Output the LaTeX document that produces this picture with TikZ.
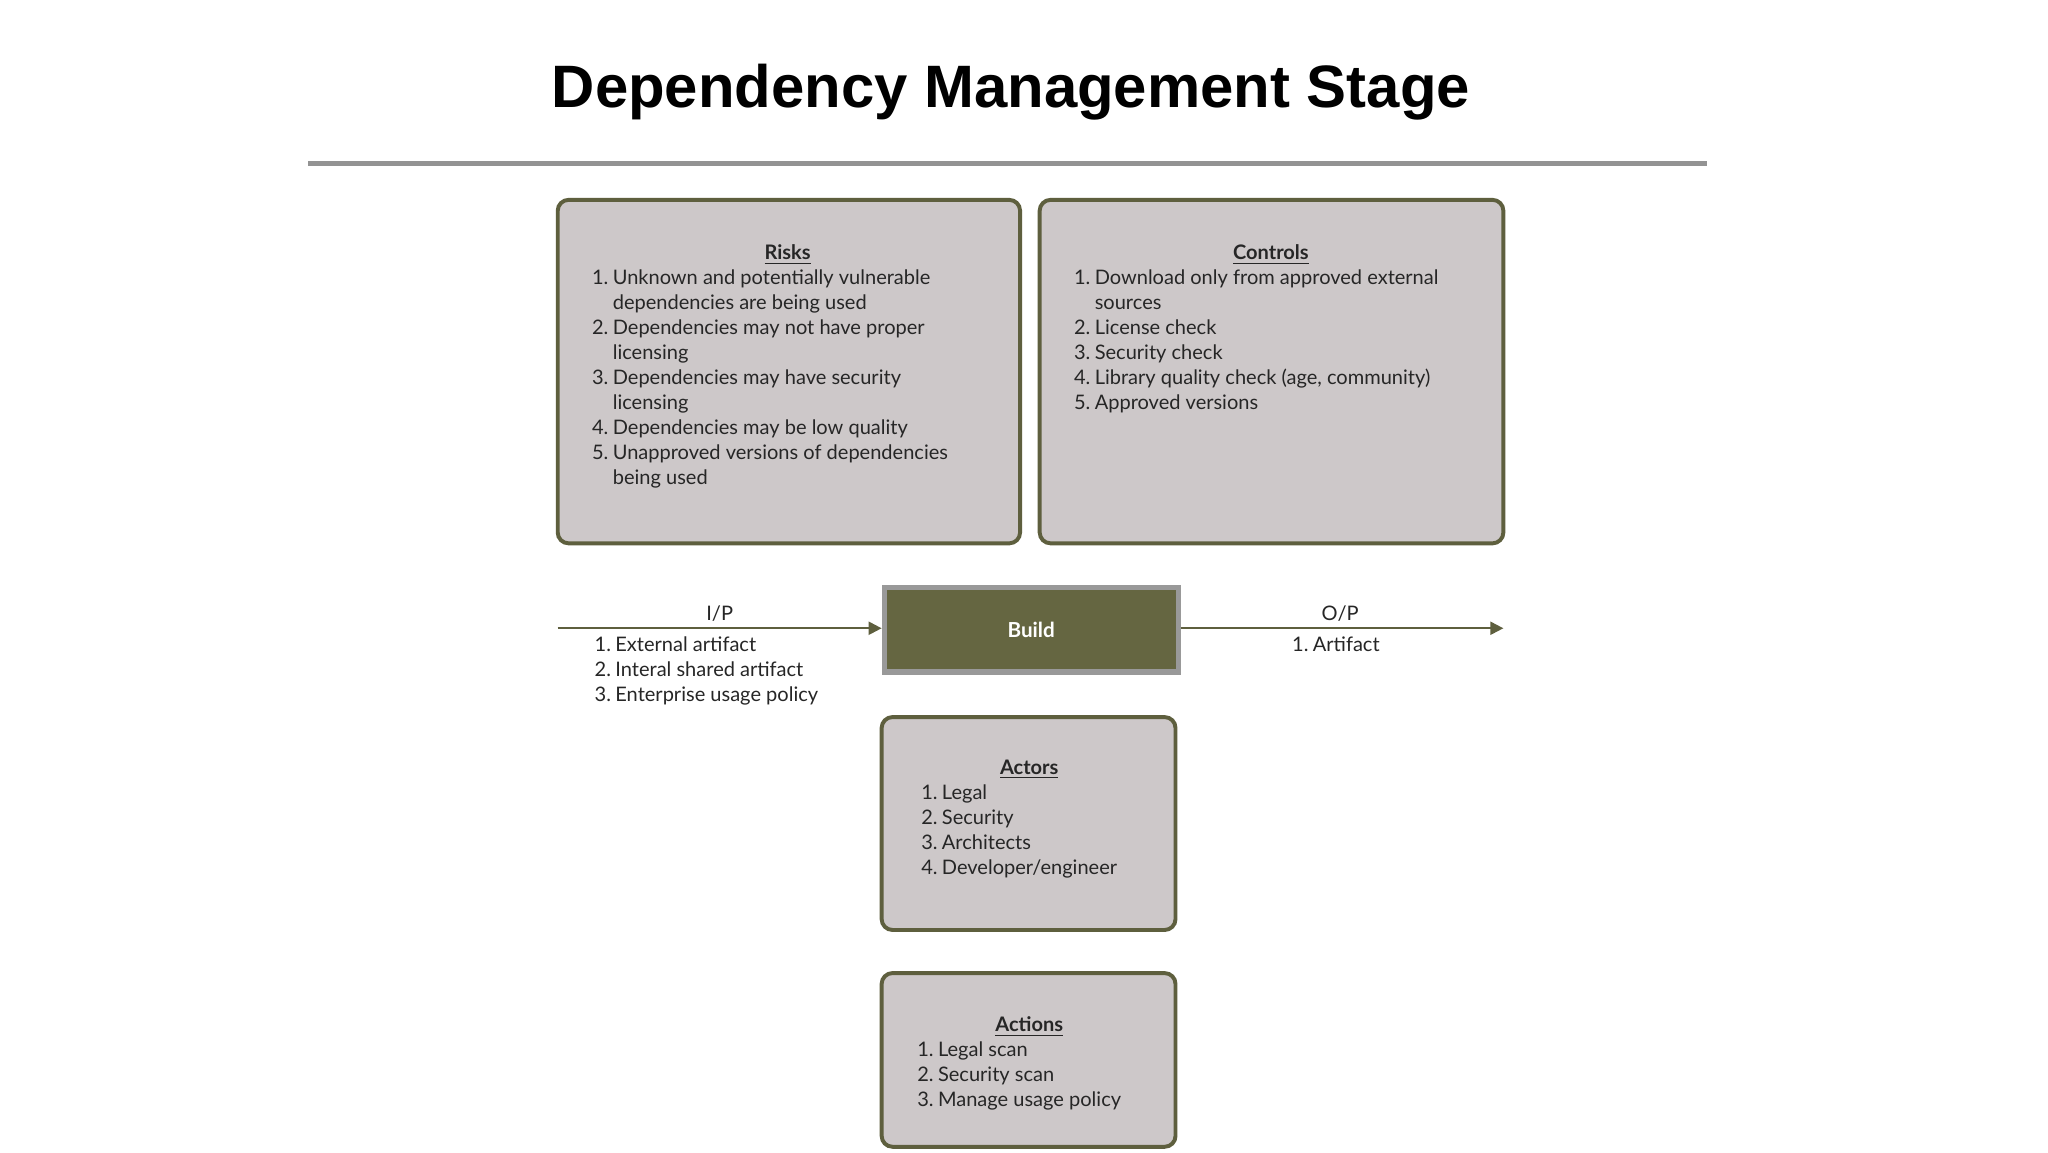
\documentclass[tikz,border=0pt]{standalone}
\usepackage{fontspec}
\setmainfont{Lato}
\newfontfamily\titlefont{Liberation Sans}
\usetikzlibrary{arrows.meta}
\definecolor{olive}{HTML}{5E5F3E}
\definecolor{boxfill}{HTML}{CDC8C9}
\definecolor{buildfill}{HTML}{656641}
\newcommand{\lst}[1]{\fontsize{9.2pt}{11.5pt}\selectfont\begin{tabular}{@{}r@{\hspace{2pt}}l@{}}#1\end{tabular}}
\begin{document}
\begin{tikzpicture}[x=0.6pt,y=-0.6pt,
  card/.style={draw=olive,line width=1.8pt,fill=boxfill,rounded corners=5pt},
  hd/.style={font=\fontsize{9.2pt}{11pt}\selectfont\bfseries,text=black!85,inner sep=0pt,anchor=base},
  items/.style={anchor=north west,inner sep=0pt,text=black!85},
  lab/.style={font=\fontsize{9.2pt}{11pt}\selectfont,text=black!85,inner sep=0pt,anchor=base},
  conn/.style={draw=olive,line width=1pt,-{Triangle[length=6pt,width=6pt]}}]
\useasboundingbox (0,0) rectangle (1568,882);
\fill[white] (0,0) rectangle (1568,882);
\node[font=\titlefont\bfseries\fontsize{27.5pt}{30pt}\selectfont,anchor=base] (title) at (774,82) {Dependency Management Stage};
\draw[gray!85,line width=2.4pt] (236,125) coordinate (la) -- (1307,125) coordinate (lb);
% Risks
\draw[card] (427,153) rectangle (781,416);
\node[hd] (rh) at (603,199) {\underline{Risks}};
\node[items] (ri) at (453,204) {\lst{1. & Unknown and potentially vulnerable\\ & dependencies are being used\\ 2. & Dependencies may not have proper\\ & licensing\\ 3. & Dependencies may have security\\ & licensing\\ 4. & Dependencies may be low quality\\ 5. & Unapproved versions of dependencies\\ & being used}};
% Controls
\draw[card] (796,153) rectangle (1151,416);
\node[hd] (ch) at (973,199) {\underline{Controls}};
\node[items] (ci) at (822,204) {\lst{1. & Download only from approved external\\ & sources\\ 2. & License check\\ 3. & Security check\\ 4. & Library quality check (age, community)\\ 5. & Approved versions}};
% Build
\node[draw=gray!80,line width=2.4pt,fill=buildfill,minimum width=135pt,minimum height=39pt,text=white,font=\fontsize{9.5pt}{11pt}\selectfont\bfseries] (build) at (789.5,482) {Build};
\coordinate (ipstart) at (427,481);
\coordinate (opend) at (1151,481);
\draw[conn] (ipstart) -- (build.west |- ipstart);
\draw[conn] (build.east |- opend) -- (opend);
\node[lab] (ip) at (551,475) {I/P};
\node[items] (ipl) at (455,485) {\lst{1. & External artifact\\ 2. & Interal shared artifact\\ 3. & Enterprise usage policy}};
\node[lab] (op) at (1026,475) {O/P};
\node[items] (opl) at (989,485) {\lst{1. & Artifact}};
% Actors
\draw[card] (675,549) rectangle (900,712);
\node[hd] (ah) at (788,593) {\underline{Actors}};
\node[items] (ai) at (705,598) {\lst{1. & Legal\\ 2. & Security\\ 3. & Architects\\ 4. & Developer/engineer}};
% Actions
\draw[card] (675,745) rectangle (900,878);
\node[hd] (xh) at (788,790) {\underline{Actions}};
\node[items] (xi) at (702,795) {\lst{1. & Legal scan\\ 2. & Security scan\\ 3. & Manage usage policy}};
\end{tikzpicture}
\end{document}
